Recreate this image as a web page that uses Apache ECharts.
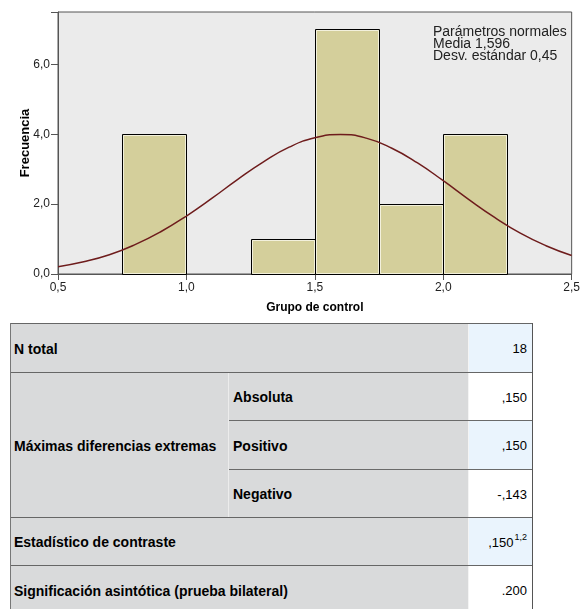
<!DOCTYPE html>
<html><head><meta charset="utf-8">
<script src="https://cdn.jsdelivr.net/npm/echarts@6/dist/echarts.min.js"></script>
<style>
html,body{margin:0;padding:0;background:#fff;width:583px;height:609px;overflow:hidden;font-family:"Liberation Sans",Arial,sans-serif;}
#chart{position:absolute;left:0;top:0;width:583px;height:320px;}
#tbl{position:absolute;left:0;top:0;width:583px;height:609px;}
.cell{position:absolute;box-sizing:border-box;color:#000;display:flex;align-items:center;padding-top:2px;}
.lbl{background:#d9dadb;font-weight:bold;font-size:14px;padding-left:4px;}
.val{justify-content:flex-end;padding-right:6px;font-size:13px;}
.sup{font-size:9px;position:relative;top:-5px;margin-left:1px;}
</style>
</head><body>
<div id="chart"></div>
<div id="tbl"></div>
<script>
// Histogram data
const binStart = [0.75, 1.25, 1.5, 1.75, 2.0];
const binEnd   = [1.0, 1.5, 1.75, 2.0, 2.25];
const binCount = [4, 1, 7, 2, 4];
// Normal curve
const curveX = [0.5,0.6,0.7,0.8,0.9,1.0,1.1,1.2,1.3,1.4,1.5,1.6,1.7,1.8,1.9,2.0,2.1,2.2,2.3,2.4,2.5];
const curveY = [0.21,0.35,0.55,0.84,1.21,1.66,2.17,2.71,3.21,3.63,3.90,3.99,3.89,3.60,3.18,2.67,2.13,1.62,1.17,0.81,0.53];
const xTicks = [0.5, 1.0, 1.5, 2.0, 2.5];
const yTicks = [0, 2, 4, 6];
const legendLines = ['Parámetros normales', 'Media 1,596', 'Desv. estándar 0,45'];

// Table data
const rowLabels = ['N total', 'Máximas diferencias extremas', 'Estadístico de contraste', 'Significación asintótica (prueba bilateral)'];
const subLabels = ['Absoluta', 'Positivo', 'Negativo'];
const tableValues = ['18', ',150', ',150', '-,143', ',150', '.200'];
const valueSup = ['', '', '', '', '1,2', ''];

const fmt = v => v.toFixed(1).replace('.', ',');

const chart = echarts.init(document.getElementById('chart'), null, {renderer: 'canvas'});
chart.setOption({
  animation: false,
  grid: {left: 58, top: 12, right: 10, bottom: 46, show: true, backgroundColor: '#ebebeb', borderColor: '#555', borderWidth: 1},
  xAxis: {
    type: 'value', min: 0.5, max: 2.5, interval: 0.5,
    name: 'Grupo de control', nameLocation: 'middle', nameGap: 28,
    nameTextStyle: {fontWeight: 'bold', fontSize: 12, color: '#000', fontFamily: 'Liberation Sans'},
    axisLine: {show: true, onZero: false, lineStyle: {color: '#555'}},
    axisTick: {show: true, length: 6, lineStyle: {color: '#555'}},
    axisLabel: {color: '#222', fontSize: 12, margin: 8, fontFamily: 'Liberation Sans', formatter: v => xTicks.includes(+v.toFixed(1)) ? fmt(v) : ''},
    splitLine: {show: false}
  },
  yAxis: {
    type: 'value', min: 0, max: 7.5, interval: 2,
    name: 'Frecuencia', nameLocation: 'middle', nameGap: 26, nameRotate: 90, nameMoveOverlap: false,
    nameTextStyle: {fontWeight: 'bold', fontSize: 13, color: '#000', fontFamily: 'Liberation Sans'},
    axisLine: {show: true, lineStyle: {color: '#555'}},
    axisTick: {show: true, length: 7, lineStyle: {color: '#555'}},
    axisLabel: {color: '#222', fontSize: 12, margin: 8, fontFamily: 'Liberation Sans', formatter: v => yTicks.includes(v) ? fmt(v) : ''},
    splitLine: {show: false}
  },
  series: [
    {
      type: 'custom',
      data: binCount.map((c, i) => [binStart[i], binEnd[i], c]),
      renderItem: function (params, api) {
        const p0 = api.coord([api.value(0), 0]);
        const p1 = api.coord([api.value(1), api.value(2)]);
        const x = Math.round(p0[0]) + 0.5, y = Math.round(p1[1]) + 0.5;
        const w = Math.round(p1[0]) - Math.round(p0[0]);
        const h = Math.round(p0[1]) - Math.round(p1[1]);
        return {
          type: 'group',
          children: [
            {type: 'rect', shape: {x: x, y: y, width: w, height: h}, style: {fill: '#d4cf9b', stroke: '#000', lineWidth: 1}},
            {type: 'rect', shape: {x: x + 1, y: y + 1, width: w - 2, height: h - 2}, style: {fill: 'none', stroke: '#f2f0dc', lineWidth: 1}}
          ]
        };
      },
      z: 2
    },
    {
      type: 'line',
      data: curveX.map((x, i) => [x, curveY[i]]),
      smooth: true, symbol: 'none',
      lineStyle: {color: '#6e1c1c', width: 1.5},
      z: 3
    }
  ],
  graphic: [{
    type: 'text', left: 433, top: 25, z: 10,
    style: {text: legendLines.join('\n'), font: '14px "Liberation Sans", Arial, sans-serif', fill: '#222', lineHeight: 12}
  }]
});

// Table
const tbl = document.getElementById('tbl');
const X0 = 10, X1 = 229, X2 = 468, X3 = 533;
const rowTops = [323, 372, 420, 469, 517, 565, 614];
function cell(x, y, w, h, cls, html, style) {
  const d = document.createElement('div');
  d.className = 'cell ' + cls;
  Object.assign(d.style, {left: x + 'px', top: y + 'px', width: w + 'px', height: h + 'px'}, style || {});
  d.innerHTML = html;
  tbl.appendChild(d);
  return d;
}
cell(X0, rowTops[0], X2 - X0, rowTops[1] - rowTops[0], 'lbl', rowLabels[0]);
cell(X0, rowTops[1], X1 - X0, rowTops[4] - rowTops[1], 'lbl', rowLabels[1], {borderRight: '1px solid #ececec'});
for (let i = 0; i < 3; i++) cell(X1, rowTops[1 + i], X2 - X1, rowTops[2 + i] - rowTops[1 + i], 'lbl', subLabels[i]);
cell(X0, rowTops[4], X2 - X0, rowTops[5] - rowTops[4], 'lbl', rowLabels[2]);
cell(X0, rowTops[5], X2 - X0, rowTops[6] - rowTops[5], 'lbl', rowLabels[3]);
for (let i = 0; i < 6; i++) {
  const html = tableValues[i] + (valueSup[i] ? '<span class="sup">' + valueSup[i] + '</span>' : '');
  cell(X2, rowTops[i], X3 - X2, rowTops[i + 1] - rowTops[i], 'val', html, {background: i % 2 === 0 ? '#eaf4fd' : '#ffffff', borderLeft: '1px solid #f4f4f4'});
}
function line(x, y, w, h, c) {
  const d = document.createElement('div');
  Object.assign(d.style, {position: 'absolute', left: x + 'px', top: y + 'px', width: w + 'px', height: h + 'px', background: c});
  tbl.appendChild(d);
}
[0, 1, 4, 5].forEach(i => line(X0, rowTops[i], X3 - X0, 1, '#666'));
[2, 3].forEach(i => line(X1, rowTops[i], X3 - X1, 1, '#6a6a6a'));
line(X0, rowTops[0], 1, 614 - rowTops[0], '#777');
line(X3 - 1, rowTops[0], 1, 614 - rowTops[0], '#555');
</script>
</body></html>
